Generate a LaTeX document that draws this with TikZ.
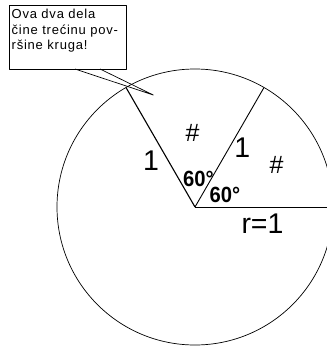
\documentclass[tikz,border=0pt]{standalone}
\usepackage{fontspec}
\setmainfont{Liberation Sans}
\newfontfamily\notefont[LetterSpace=6]{Liberation Sans}
\newfontfamily\angfont[FakeStretch=0.92]{Liberation Sans}
\begin{document}
\begin{tikzpicture}[x=1pt,y=-1pt,line join=round,
  radline/.style={line width=0.9pt},
  bigtxt/.style={inner sep=0pt,font=\fontsize{28.5}{28.5}\selectfont},
  hashtxt/.style={inner sep=0pt,font=\fontsize{25}{25}\selectfont},
  angtxt/.style={inner sep=0pt,font=\angfont\fontsize{22}{22}\selectfont\bfseries},
  notebox/.style={draw,line width=0.7pt,inner sep=0pt,anchor=north west},
  notetxt/.style={inner sep=0pt,anchor=north west,align=left,font=\notefont\fontsize{13}{15.5}\selectfont}]
\useasboundingbox (0,0) rectangle (327,346);
\clip (0,0) rectangle (327,346);
% circle and radii
\coordinate (O) at (195,207);
\coordinate (A) at (333,207);
\coordinate (B) at (264,87.5);
\coordinate (C) at (126,87.5);
\draw[line width=0.7pt] (O) circle[radius=138];
\draw[radline] (O) -- (A);
\draw[radline] (O) -- (B);
\draw[radline,line width=1.1pt] (O) -- (C);
% labels
\node[hashtxt] (h1) at (192.5,132.5) {\#};
\node[hashtxt] (h2) at (276.5,165) {\#};
\node[bigtxt] (s1) at (151,161) {1};
\node[bigtxt] (s2) at (242.3,147.2) {1};
\node[bigtxt] (r) at (262.5,223.5) {r=1};
\node[angtxt] (a1) at (198.5,178.5) {60°};
\node[angtxt] (a2) at (225,194.5) {60°};
% callout
\node[notebox,minimum width=116.7pt,minimum height=64pt] (box) at (9,5) {};
\node[notetxt] (note) at (11.5,9) {Ova dva dela\\čine trećinu pov-\\ršine kruga!};
\coordinate (p1) at (75,69);
\coordinate (p2) at (100,69);
\coordinate (tip) at (153.3,95);
\draw[line width=0.7pt] (p1) -- (tip) -- (p2);
\end{tikzpicture}
\end{document}
